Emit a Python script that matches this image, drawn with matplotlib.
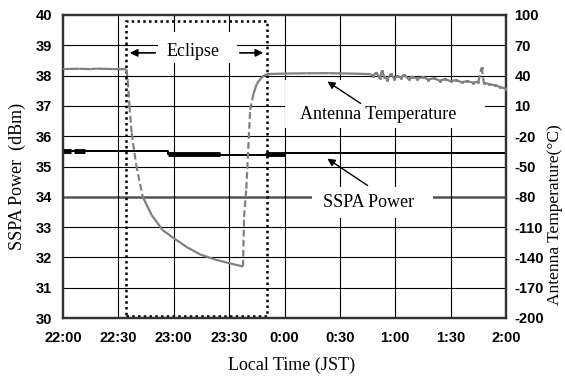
import numpy as np
import matplotlib
matplotlib.use("Agg")
import matplotlib.pyplot as plt
from matplotlib.patches import Rectangle
from matplotlib.collections import LineCollection

# ---------------- data ----------------
x_tick_labels = ["22:00", "22:30", "23:00", "23:30", "0:00", "0:30", "1:00", "1:30", "2:00"]
x_ticks_h = [0, 0.5, 1.0, 1.5, 2.0, 2.5, 3.0, 3.5, 4.0]   # hours after 22:00
left_ticks = [30, 31, 32, 33, 34, 35, 36, 37, 38, 39, 40]
right_ticks = [-200, -170, -140, -110, -80, -50, -20, 10, 40, 70, 100]

# SSPA power (dBm)
sspa_time = [0.0, 0.95, 0.95, 1.42, 1.42, 1.83, 1.83, 2.0, 2.0, 4.0]
sspa_dbm = [35.50, 35.50, 35.41, 35.41, 35.38, 35.38, 35.41, 35.41, 35.45, 35.45]
thick_start = [0.00, 0.10, 0.95, 1.83]
thick_end = [0.07, 0.20, 1.42, 2.00]
thick_level = [35.50, 35.50, 35.41, 35.41]

# Antenna temperature (deg C)
temp_time = [0.00, 0.15, 0.25, 0.30, 0.45, 0.573,
             0.585, 0.60, 0.62, 0.66, 0.72, 0.80, 0.90, 1.00, 1.12, 1.237, 1.37, 1.51, 1.625,
             1.635, 1.655, 1.69, 1.72, 1.75, 1.80, 1.84,
             2.00, 2.20, 2.40, 2.60, 2.77,
             2.80, 2.83, 2.86, 2.88, 2.90, 2.93, 2.96, 2.99, 3.02, 3.05, 3.08, 3.12, 3.15,
             3.20, 3.25, 3.30, 3.35, 3.40, 3.45, 3.50, 3.55, 3.60, 3.65, 3.70, 3.75, 3.78,
             3.80, 3.85, 3.90, 3.95, 4.00]
temp_c = [46.5, 46.8, 46.4, 46.9, 46.5, 46.3,
          35.0, 10.0, -17.0, -48.0, -80.0, -98.0, -113.0, -121.0, -130.0, -137.0, -142.0, -146.0, -149.0,
          -100.0, -72.0, 6.0, 22.0, 32.0, 39.0, 41.5,
          42.0, 42.3, 42.4, 42.0, 41.5,
          40.0, 43.0, 37.5, 45.0, 39.0, 36.0, 42.0, 37.0, 40.0, 38.0, 41.0, 36.5, 39.0,
          37.0, 38.5, 36.0, 37.5, 35.0, 36.5, 34.5, 35.5, 33.5, 34.5, 33.0, 34.0, 48.0,
          33.0, 31.5, 30.5, 28.5, 27.0]

eclipse_start = 0.573
eclipse_end = 1.838

# ---------------- figure ----------------
plt.rcParams['font.family'] = ['Liberation Serif', 'DejaVu Serif']
fig = plt.figure(figsize=(5.65, 3.76), dpi=100)
ax = fig.add_axes([63/565, 1-318/376, (506-63)/565, (318-15)/376])
ax2 = ax.twinx()

tick_font = dict(family=['Liberation Sans Narrow', 'Liberation Sans'], weight='bold', size=10.5)

ax.set_xlim(0, 4)
ax.set_ylim(30, 40)
ax2.set_ylim(-200, 100)
ax.set_xticks(x_ticks_h)
ax.set_xticklabels(x_tick_labels, fontdict=tick_font)
ax.set_yticks(left_ticks)
ax.set_yticklabels([str(v) for v in left_ticks], fontdict=tick_font)
ax2.set_yticks(right_ticks)
ax2.set_yticklabels([str(v) for v in right_ticks], fontdict=tick_font)
ax.tick_params(axis='y', length=0, pad=8)
ax2.tick_params(length=0, pad=6)
ax.tick_params(axis='x', length=0, pad=9)

# grid
for v in left_ticks[1:-1]:
    if v == 34:
        ax.axhline(v, color='#555555', lw=1.8, zorder=1)
    else:
        ax.axhline(v, color='black', lw=0.8, zorder=1)
for v in x_ticks_h[1:-1]:
    ax.axvline(v, color='black', lw=0.8, zorder=1)

for sp in ax.spines.values():
    sp.set_color('#333333'); sp.set_linewidth(1.6)
for sp in ax2.spines.values():
    sp.set_color('#333333'); sp.set_linewidth(1.6)

# SSPA power
ax.plot(sspa_time, sspa_dbm, color='black', lw=1.4, zorder=3)
for s, e, lv in zip(thick_start, thick_end, thick_level):
    ax.plot([s, e], [lv, lv], color='black', lw=3.5, solid_capstyle='butt', zorder=3)

# Eclipse rectangle
ax.add_patch(Rectangle((eclipse_start, 30.07), eclipse_end - eclipse_start, 39.79 - 30.07,
                       fill=False, ls=(0, (1, 1.3)), lw=1.8, ec='black', zorder=4))

# Antenna temperature (dashed where steep)
tt = np.array(temp_time); tc = np.array(temp_c)
pts = np.column_stack([tt, tc])
segs = np.stack([pts[:-1], pts[1:]], axis=1)
slope = np.abs(np.diff(tc) / np.diff(tt))
styles = [(0, (3, 1.5)) if s > 400 else 'solid' for s in slope]
lc = LineCollection(segs, colors='#808080', linewidths=1.6, linestyles=styles, zorder=3)
ax2.add_collection(lc)
noisy = tt > 2.78
ax2.plot(tt[noisy], tc[noisy], ls='none', marker='.', ms=2.5, color='#808080', zorder=3)

# text boxes (white masks over grid)
def mask(x0, x1, y0, y1):
    ax.add_patch(Rectangle((x0, y0), x1 - x0, y1 - y0, fc='white', ec='none', zorder=2))

mask(0.858, 1.571, 38.42, 39.44)
mask(2.005, 3.81, 36.27, 37.855)
mask(2.248, 3.341, 33.30, 34.32)

ax.text(1.17, 38.78, "Eclipse", ha='center', va='center', fontsize=13, zorder=5)
ax.annotate("", xy=(eclipse_start + 0.005, 38.75), xytext=(0.858, 38.75),
            arrowprops=dict(arrowstyle='-|>', color='black', lw=1.2, mutation_scale=11), zorder=5)
ax.annotate("", xy=(eclipse_end - 0.005, 38.75), xytext=(1.571, 38.75),
            arrowprops=dict(arrowstyle='-|>', color='black', lw=1.2, mutation_scale=11), zorder=5)

ax.text(2.849, 36.70, "Antenna Temperature", ha='center', va='center', fontsize=13, zorder=5)
ax.annotate("", xy=(2.366, 37.855), xytext=(2.709, 37.03),
            arrowprops=dict(arrowstyle='-|>', color='black', lw=1.0, mutation_scale=11), zorder=5)

ax.text(2.763, 33.80, "SSPA Power", ha='center', va='center', fontsize=13, zorder=5)
ax.annotate("", xy=(2.366, 35.31), xytext=(2.772, 34.32),
            arrowprops=dict(arrowstyle='-|>', color='black', lw=1.0, mutation_scale=11), zorder=5)

# axis labels
fig.text(292/565, 1-365/376, "Local Time (JST)", ha='center', va='center', fontsize=13)
fig.text(17/565, 1-176/376, "SSPA Power  (dBm)", ha='center', va='center', rotation=90, fontsize=13)
fig.text(555/565, 1-215/376, "Antenna Temperature(\u00b0C)", ha='center', va='center', rotation=90, fontsize=12.5)

fig.savefig("out.png", dpi=100)
